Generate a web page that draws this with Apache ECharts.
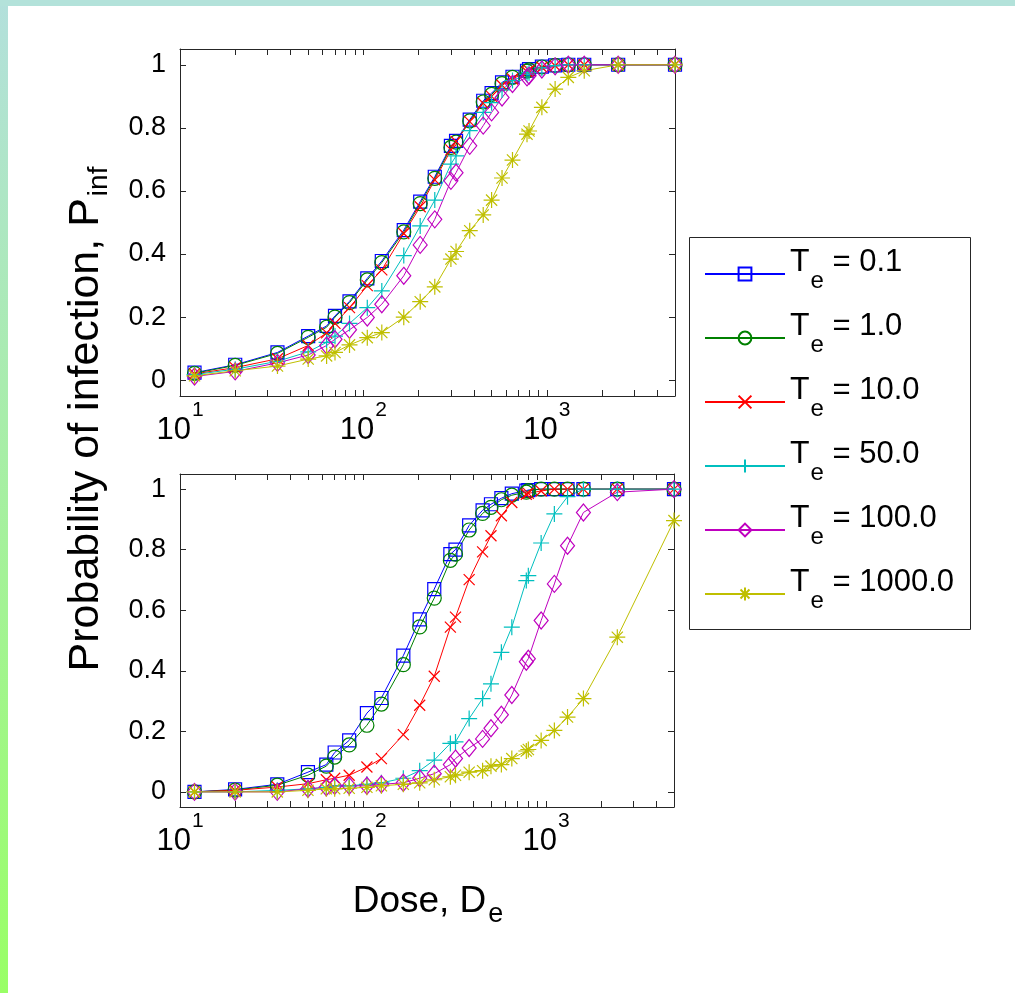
<!DOCTYPE html>
<html>
<head>
<meta charset="utf-8">
<script src="https://cdn.jsdelivr.net/npm/echarts@6.0.0/dist/echarts.min.js"></script>
<style>
html,body{margin:0;padding:0;background:#fff;}
#chart{width:1015px;height:993px;}
</style>
</head>
<body>
<div id="chart"></div>
<script>
// ---------------- DATA ----------------
const dose = [12, 20, 34, 50, 63, 70, 84, 105, 126, 166, 204, 245, 300, 320, 380, 450, 500, 570, 650, 780, 800, 940, 1110, 1310, 1600, 2450, 5000];

const legendNames = ['0.1', '1.0', '10.0', '50.0', '100.0', '1000.0'];

// top panel
const topTe01   = [0.024,0.049,0.088,0.14,0.172,0.204,0.25,0.323,0.378,0.476,0.566,0.645,0.743,0.759,0.826,0.886,0.91,0.944,0.962,0.981,0.986,0.994,0.998,1,1,1,1];
const topTe1    = [0.022,0.047,0.085,0.136,0.168,0.2,0.246,0.318,0.373,0.47,0.56,0.64,0.738,0.755,0.822,0.882,0.906,0.94,0.96,0.98,0.984,0.993,0.998,1,1,1,1];
const topTe10   = [0.02,0.04,0.068,0.11,0.15,0.18,0.23,0.3,0.35,0.465,0.55,0.635,0.73,0.757,0.82,0.878,0.9,0.935,0.955,0.978,0.982,0.992,0.997,1,1,1,1];
const topTe50   = [0.018,0.035,0.06,0.09,0.12,0.14,0.18,0.23,0.283,0.395,0.489,0.571,0.685,0.711,0.791,0.849,0.88,0.92,0.95,0.97,0.975,0.99,0.997,1,1,1,1];
const topTe100  = [0.012,0.028,0.055,0.08,0.11,0.13,0.16,0.199,0.241,0.331,0.429,0.51,0.632,0.658,0.743,0.807,0.849,0.896,0.939,0.96,0.965,0.985,0.995,1,1,1,1];
const topTe1000 = [0.014,0.03,0.045,0.067,0.077,0.088,0.112,0.135,0.151,0.2,0.249,0.296,0.384,0.408,0.474,0.524,0.571,0.641,0.698,0.78,0.79,0.865,0.923,0.96,0.981,1,1];

// bottom panel
const botTe01   = [0,0.008,0.025,0.065,0.09,0.13,0.17,0.26,0.31,0.45,0.57,0.67,0.785,0.8,0.88,0.93,0.95,0.97,0.985,0.995,0.997,1,1,1,1,1,1];
const botTe1    = [0,0.006,0.022,0.055,0.085,0.115,0.155,0.22,0.29,0.42,0.545,0.64,0.765,0.785,0.865,0.92,0.94,0.965,0.98,0.99,0.995,1,1,1,1,1,1];
const botTe10   = [0,0.005,0.016,0.027,0.04,0.045,0.055,0.082,0.11,0.189,0.286,0.382,0.544,0.577,0.701,0.793,0.846,0.912,0.956,0.983,0.986,0.994,1,1,1,1,1];
const botTe50   = [0,0,0.005,0.01,0.015,0.02,0.02,0.025,0.03,0.045,0.07,0.105,0.16,0.165,0.242,0.308,0.357,0.461,0.544,0.698,0.714,0.822,0.918,0.975,1,1,1];
const botTe100  = [0,0,0,0.01,0.015,0.02,0.02,0.02,0.025,0.03,0.045,0.06,0.09,0.11,0.145,0.175,0.21,0.255,0.32,0.43,0.44,0.566,0.687,0.813,0.923,0.99,1];
const botTe1000 = [0,0,0,0.005,0.01,0.01,0.012,0.015,0.02,0.025,0.03,0.04,0.05,0.055,0.065,0.07,0.085,0.09,0.11,0.135,0.14,0.17,0.203,0.247,0.308,0.511,0.896];

// ticks
const xMajorTicks = [10, 100, 1000];
const xMinorTicks = [20,30,40,50,60,70,80,90,200,300,400,500,600,700,800,900,2000,3000,4000];
const yTicks = [0, 0.2, 0.4, 0.6, 0.8, 1];

// ---------------- STYLE ----------------
const FONT = "'Liberation Sans', Arial, Helvetica, sans-serif";
const AX = '#262626';
const colors = ['#0000ff', '#008000', '#ff0000', '#00bfbf', '#bf00bf', '#bfbf00'];
const symbols = [
  {symbol: 'rect', size: 13},
  {symbol: 'circle', size: 14},
  {symbol: 'path://M0,0L10,10M10,0L0,10', size: 11},
  {symbol: 'path://M5,0L5,10M0,5L10,5', size: 16},
  {symbol: 'path://M5,0L10,6L5,12L0,6Z', size: [14, 17]},
  {symbol: 'path://M5,0L5,10M0,5L10,5M1.5,1.5L8.5,8.5M8.5,1.5L1.5,8.5', size: 16}
];

function mkSeries(i, vals, xi, yi) {
  return {
    type: 'line', name: legendNames[i], xAxisIndex: xi, yAxisIndex: yi,
    data: dose.map((d, k) => [d, vals[k]]),
    symbol: symbols[i].symbol, symbolSize: symbols[i].size, showSymbol: true,
    lineStyle: {color: colors[i], width: 1},
    itemStyle: {color: 'rgba(255,255,255,0)', borderColor: colors[i], borderWidth: 1.2},
    emphasis: {disabled: true}, silent: true, animation: false, clip: false
  };
}

function xAxisCfg(gridIndex, position, showLabels) {
  return {
    type: 'log', logBase: 10, gridIndex, position, min: 10, max: 5000,
    axisLine: {show: true, onZero: false, lineStyle: {color: AX, width: 1}},
    axisTick: {show: true, inside: true, length: 6, customValues: xMajorTicks.concat(xMinorTicks), lineStyle: {color: AX, width: 1}},
    minorTick: {show: false}, splitLine: {show: false},
    axisLabel: showLabels ? {
      show: true, customValues: xMajorTicks, margin: 4,
      formatter: v => '{b|10}{p|' + Math.round(Math.log10(v)) + '}',
      rich: {
        b: {fontSize: 31, fontFamily: FONT, color: '#000'},
        p: {fontSize: 21, fontFamily: FONT, color: '#000', padding: [0, 0, 40, 1]}
      }
    } : {show: false}
  };
}

function yAxisCfg(gridIndex, position, showLabels) {
  return {
    type: 'value', gridIndex, position, min: -0.05, max: 1.05,
    axisLine: {show: true, onZero: false, lineStyle: {color: AX, width: 1}},
    axisTick: {show: true, inside: true, length: 6, customValues: yTicks, lineStyle: {color: AX, width: 1}},
    splitLine: {show: false},
    axisLabel: showLabels ? {
      show: true, customValues: yTicks, margin: 14,
      fontSize: 27, fontFamily: FONT, color: '#000',
      formatter: v => String(Math.round(v * 10) / 10)
    } : {show: false}
  };
}

const series = [];
[topTe01, topTe1, topTe10, topTe50, topTe100, topTe1000].forEach((v, i) => series.push(mkSeries(i, v, 0, 0)));
[botTe01, botTe1, botTe10, botTe50, botTe100, botTe1000].forEach((v, i) => series.push(mkSeries(i, v, 2, 2)));

const option = {
  backgroundColor: '#ffffff',
  animation: false,
  grid: [
    {left: 180, top: 49, width: 495, height: 347},
    {left: 180, top: 474, width: 494, height: 333}
  ],
  xAxis: [xAxisCfg(0, 'bottom', true), xAxisCfg(0, 'top', false), xAxisCfg(1, 'bottom', true), xAxisCfg(1, 'top', false)],
  yAxis: [yAxisCfg(0, 'left', true), yAxisCfg(0, 'right', false), yAxisCfg(1, 'left', true), yAxisCfg(1, 'right', false)],
  legend: {
    data: legendNames, orient: 'vertical', left: 704, top: 246, padding: 0,
    itemWidth: 80, itemHeight: 16, itemGap: 17,
    selectedMode: false,
    formatter: name => '{t|T}{s|e}{n| = ' + name + '}',
    textStyle: {
      fontFamily: FONT, color: '#000',
      rich: {
        t: {fontSize: 32, fontFamily: FONT, color: '#000', padding: [0, 0, 24, 0]},
        s: {fontSize: 24, fontFamily: FONT, color: '#000', padding: [14, 0, 0, 1]},
        n: {fontSize: 31, fontFamily: FONT, color: '#000', padding: [0, 0, 24, 0]}
      }
    }
  },
  graphic: [
    {type: 'rect', z: -10, shape: {x: 0, y: 0, width: 8, height: 993},
     style: {fill: {type: 'linear', x: 0, y: 0, x2: 0, y2: 1, colorStops: [{offset: 0, color: '#b3e0dc'}, {offset: 1, color: '#99ff66'}]}}},
    {type: 'rect', z: -10, shape: {x: 0, y: 0, width: 1015, height: 6}, style: {fill: '#b3e2da'}},
    {type: 'rect', z: -5, shape: {x: 689.5, y: 237.5, width: 281, height: 392}, style: {fill: '#fff', stroke: AX, lineWidth: 1}},
    {type: 'text', x: 86, y: 419, rotation: Math.PI / 2,
     style: {text: '{a|Probability of infection, P}{s|inf}', textAlign: 'center', textVerticalAlign: 'middle',
       rich: {a: {fontSize: 43, fontFamily: FONT, color: '#000', lineHeight: 30},
              s: {fontSize: 28, fontFamily: FONT, color: '#000', lineHeight: 24, padding: [27, 0, 0, 2]}}}},
    {type: 'text', x: 428, y: 902,
     style: {text: '{a|Dose, D}{s|e}', textAlign: 'center', textVerticalAlign: 'middle',
       rich: {a: {fontSize: 37, fontFamily: FONT, color: '#000', lineHeight: 30},
              s: {fontSize: 27, fontFamily: FONT, color: '#000', lineHeight: 24, padding: [26, 0, 0, 2]}}}}
  ],
  series
};

const chart = echarts.init(document.getElementById('chart'), null, {renderer: 'canvas'});
chart.setOption(option);
</script>
</body>
</html>
